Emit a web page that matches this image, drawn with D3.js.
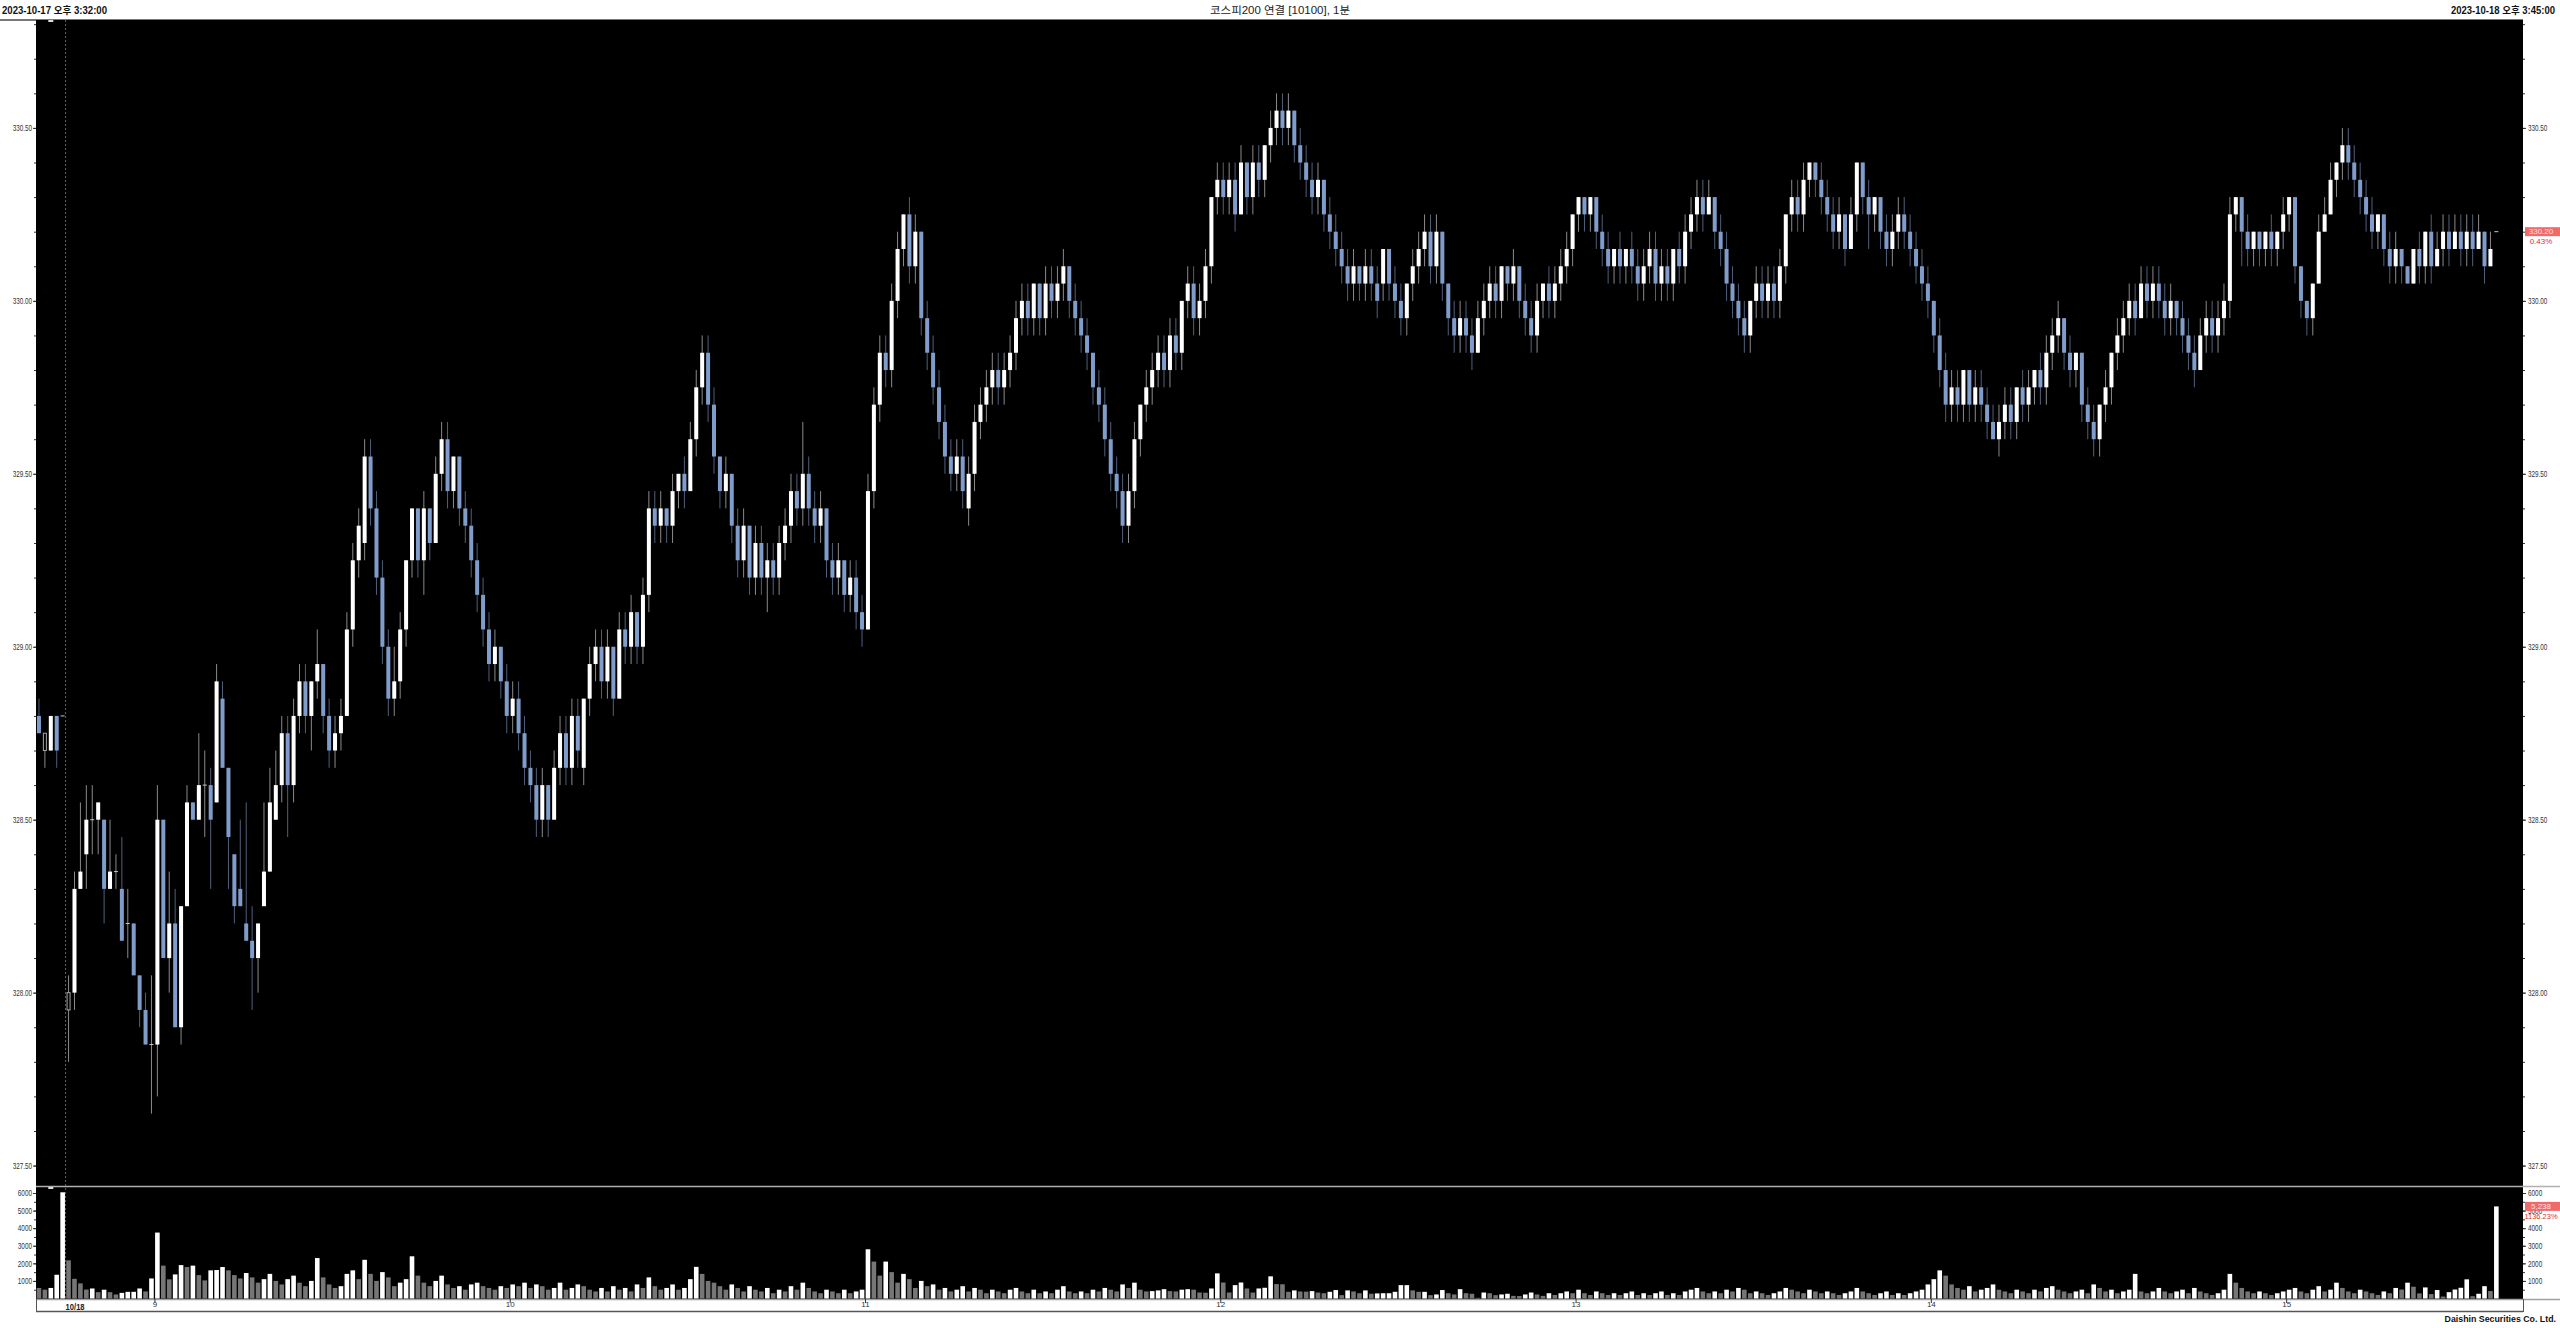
<!DOCTYPE html>
<html><head><meta charset="utf-8">
<script src="https://cdn.jsdelivr.net/npm/d3@7"></script>
<style>html,body{margin:0;padding:0;background:#fff;overflow:hidden}svg{display:block}</style>
</head><body>
<svg id="c" width="2560" height="1328"></svg>
<script>
// ---- data (5 candles of 10/17 then 10/18 session) ----
const opens = [
328.80,328.70,328.70,328.80,328.80,327.95,328.00,328.30,328.40,328.50,
328.50,328.50,328.30,328.35,328.30,328.20,328.20,328.05,327.95,327.85,
327.85,328.50,328.10,328.20,327.90,328.25,328.55,328.50,328.60,328.60,
328.55,328.85,328.65,328.40,328.30,328.20,328.15,328.10,328.25,328.35,
328.50,328.60,328.75,328.60,328.80,328.90,328.80,328.90,328.95,328.80,
328.70,328.75,328.80,329.05,329.25,329.30,329.55,329.40,329.20,329.00,
328.85,328.90,329.05,329.25,329.40,329.25,329.40,329.30,329.50,329.60,
329.45,329.55,329.40,329.35,329.25,329.15,329.05,328.95,329.00,328.90,
328.80,328.85,328.75,328.65,328.60,328.50,328.60,328.50,328.65,328.75,
328.65,328.80,328.65,328.85,328.95,329.00,328.90,329.00,328.85,329.05,
329.00,329.10,329.00,329.15,329.40,329.35,329.40,329.35,329.45,329.50,
329.45,329.60,329.75,329.85,329.70,329.55,329.45,329.50,329.35,329.25,
329.35,329.20,329.30,329.20,329.25,329.20,329.30,329.35,329.45,329.40,
329.50,329.40,329.35,329.40,329.25,329.20,329.25,329.15,329.20,329.10,
329.05,329.45,329.70,329.85,329.80,330.00,330.15,330.25,330.10,330.20,
329.95,329.85,329.75,329.65,329.55,329.50,329.55,329.40,329.50,329.65,
329.70,329.75,329.80,329.75,329.80,329.85,329.95,330.00,329.95,330.05,
329.95,330.05,330.00,330.05,330.10,330.00,329.95,329.90,329.85,329.75,
329.70,329.60,329.50,329.45,329.35,329.45,329.60,329.70,329.75,329.80,
329.85,329.80,329.90,329.85,330.00,330.05,329.95,330.00,330.10,330.30,
330.35,330.30,330.35,330.25,330.40,330.30,330.40,330.35,330.45,330.50,
330.55,330.50,330.55,330.45,330.40,330.35,330.30,330.35,330.25,330.20,
330.15,330.10,330.05,330.10,330.05,330.10,330.05,330.05,330.15,330.05,
330.00,329.95,330.05,330.10,330.15,330.20,330.10,330.20,330.05,329.95,
329.90,329.95,329.90,329.85,329.95,330.00,330.05,330.00,330.10,330.05,
330.10,330.00,329.95,329.90,330.00,330.05,330.00,330.05,330.10,330.15,
330.25,330.30,330.25,330.30,330.20,330.15,330.10,330.15,330.10,330.15,
330.10,330.05,330.10,330.15,330.05,330.10,330.05,330.15,330.10,330.20,
330.25,330.30,330.25,330.30,330.20,330.15,330.05,330.00,329.95,329.90,
330.00,330.05,330.00,330.05,330.00,330.10,330.25,330.30,330.25,330.35,
330.40,330.35,330.30,330.25,330.20,330.25,330.15,330.25,330.40,330.30,
330.25,330.30,330.20,330.15,330.20,330.25,330.20,330.15,330.10,330.05,
330.00,329.90,329.80,329.70,329.75,329.70,329.80,329.70,329.75,329.70,
329.65,329.60,329.65,329.70,329.65,329.75,329.70,329.75,329.80,329.75,
329.85,329.90,329.95,329.85,329.80,329.85,329.70,329.65,329.60,329.70,
329.75,329.85,329.90,329.95,330.00,329.95,330.05,330.00,330.05,330.00,
329.95,330.00,329.95,329.90,329.85,329.80,329.90,329.95,329.90,329.95,
330.00,330.25,330.30,330.20,330.15,330.20,330.15,330.20,330.15,330.20,
330.25,330.30,330.10,330.00,329.95,330.05,330.20,330.25,330.35,330.40,
330.45,330.40,330.35,330.30,330.25,330.20,330.25,330.15,330.10,330.15,
330.10,330.05,330.15,330.10,330.20,330.10,330.15,330.20,330.15,330.20,
330.15,330.20,330.15,330.20,330.10,330.20];
const highs = [
328.85,328.75,328.80,328.80,328.80,328.05,328.35,328.55,328.60,328.60,
328.55,328.50,328.50,328.40,328.45,328.30,328.20,328.05,328.00,328.05,
328.60,328.50,328.35,328.30,328.25,328.60,328.55,328.75,328.70,328.65,
328.95,328.90,328.65,328.40,328.50,328.55,328.25,328.20,328.55,328.65,
328.70,328.80,328.80,328.85,328.95,328.95,328.90,329.05,328.95,328.85,
328.80,328.85,329.10,329.30,329.40,329.60,329.60,329.45,329.25,329.05,
329.00,329.10,329.25,329.40,329.40,329.45,329.40,329.55,329.65,329.65,
329.55,329.55,329.45,329.40,329.30,329.20,329.10,329.05,329.00,328.95,
328.90,328.90,328.80,328.70,328.65,328.65,328.60,328.70,328.80,328.80,
328.85,328.85,328.85,329.00,329.05,329.05,329.05,329.00,329.10,329.10,
329.15,329.10,329.20,329.45,329.45,329.45,329.40,329.50,329.50,329.55,
329.65,329.80,329.90,329.90,329.75,329.55,329.55,329.50,329.40,329.40,
329.35,329.35,329.35,329.30,329.30,329.35,329.40,329.50,329.50,329.65,
329.55,329.45,329.45,329.40,329.30,329.30,329.25,329.25,329.25,329.15,
329.50,329.75,329.90,329.90,330.05,330.20,330.25,330.30,330.25,330.20,
330.00,329.90,329.80,329.70,329.60,329.60,329.60,329.55,329.70,329.75,
329.80,329.85,329.85,329.85,329.90,330.00,330.05,330.05,330.05,330.05,
330.10,330.10,330.10,330.15,330.10,330.05,330.00,329.95,329.85,329.80,
329.75,329.65,329.55,329.50,329.50,329.65,329.70,329.80,329.85,329.90,
329.90,329.95,329.95,330.00,330.10,330.10,330.05,330.15,330.30,330.40,
330.40,330.40,330.40,330.45,330.40,330.45,330.45,330.45,330.55,330.60,
330.60,330.60,330.55,330.50,330.45,330.40,330.40,330.35,330.30,330.25,
330.20,330.15,330.15,330.10,330.15,330.15,330.10,330.15,330.15,330.10,
330.05,330.05,330.15,330.20,330.25,330.25,330.25,330.20,330.05,330.00,
330.00,330.00,329.95,330.00,330.05,330.10,330.10,330.10,330.10,330.15,
330.10,330.05,330.00,330.05,330.05,330.10,330.10,330.15,330.20,330.25,
330.30,330.30,330.30,330.30,330.25,330.20,330.15,330.20,330.15,330.20,
330.15,330.15,330.20,330.20,330.15,330.15,330.15,330.20,330.25,330.30,
330.35,330.35,330.35,330.30,330.25,330.20,330.10,330.05,330.00,330.00,
330.10,330.10,330.10,330.10,330.15,330.25,330.35,330.35,330.40,330.40,
330.40,330.40,330.35,330.30,330.30,330.25,330.30,330.40,330.40,330.35,
330.30,330.30,330.25,330.25,330.30,330.30,330.25,330.20,330.15,330.10,
330.00,329.95,329.85,329.80,329.80,329.80,329.80,329.80,329.80,329.75,
329.70,329.70,329.75,329.75,329.75,329.80,329.80,329.80,329.85,329.90,
329.95,330.00,329.95,329.90,329.85,329.85,329.75,329.70,329.70,329.80,
329.85,329.95,330.00,330.05,330.05,330.10,330.10,330.10,330.10,330.05,
330.05,330.00,330.00,329.95,329.90,329.95,330.00,330.00,330.00,330.05,
330.30,330.30,330.30,330.25,330.20,330.20,330.20,330.25,330.20,330.30,
330.30,330.30,330.10,330.00,330.05,330.25,330.30,330.40,330.40,330.50,
330.50,330.45,330.40,330.35,330.30,330.25,330.25,330.20,330.20,330.15,
330.10,330.15,330.20,330.20,330.25,330.20,330.25,330.25,330.25,330.25,
330.25,330.25,330.25,330.20,330.20,330.20];
const lows = [
328.75,328.65,328.70,328.65,328.80,327.80,327.95,328.30,328.30,328.40,
328.40,328.20,328.30,328.30,328.15,328.10,328.05,327.90,327.85,327.65,
327.70,328.10,328.00,327.90,327.85,328.25,328.50,328.50,328.45,328.30,
328.55,328.65,328.30,328.20,328.25,328.15,327.95,328.00,328.25,328.35,
328.50,328.55,328.45,328.55,328.75,328.75,328.70,328.85,328.75,328.65,
328.65,328.70,328.80,329.00,329.20,329.25,329.35,329.15,328.95,328.80,
328.80,328.85,329.00,329.20,329.20,329.15,329.25,329.30,329.45,329.40,
329.40,329.35,329.30,329.20,329.10,329.00,328.90,328.90,328.85,328.75,
328.75,328.70,328.60,328.55,328.45,328.45,328.45,328.50,328.60,328.60,
328.60,328.65,328.60,328.80,328.90,328.85,328.85,328.80,328.85,328.95,
328.95,328.95,328.95,329.10,329.30,329.30,329.30,329.30,329.40,329.40,
329.45,329.55,329.70,329.65,329.50,329.40,329.40,329.30,329.20,329.20,
329.15,329.15,329.15,329.10,329.15,329.15,329.25,329.30,329.35,329.35,
329.35,329.30,329.30,329.20,329.15,329.15,329.10,329.10,329.05,329.00,
329.05,329.40,329.65,329.75,329.75,329.95,330.10,330.05,330.05,329.90,
329.80,329.70,329.60,329.50,329.45,329.45,329.40,329.35,329.45,329.60,
329.65,329.70,329.70,329.70,329.75,329.80,329.90,329.90,329.90,329.90,
329.90,329.95,329.95,330.00,329.95,329.90,329.85,329.80,329.70,329.65,
329.55,329.45,329.40,329.30,329.30,329.40,329.55,329.65,329.70,329.75,
329.75,329.75,329.80,329.80,329.95,329.90,329.90,329.95,330.05,330.25,
330.25,330.25,330.20,330.25,330.25,330.25,330.30,330.30,330.40,330.45,
330.45,330.45,330.40,330.35,330.30,330.25,330.25,330.20,330.15,330.10,
330.05,330.00,330.00,330.00,330.00,330.00,329.95,330.00,330.00,329.95,
329.90,329.90,330.00,330.05,330.10,330.05,330.05,330.00,329.90,329.85,
329.85,329.85,329.80,329.85,329.90,329.95,329.95,329.95,330.00,330.00,
329.95,329.90,329.85,329.85,329.95,329.95,329.95,330.00,330.05,330.10,
330.20,330.20,330.20,330.15,330.10,330.05,330.05,330.05,330.05,330.05,
330.00,330.00,330.05,330.00,330.00,330.00,330.00,330.05,330.05,330.15,
330.20,330.20,330.25,330.15,330.10,330.00,329.95,329.90,329.85,329.85,
329.95,329.95,329.95,329.95,329.95,330.05,330.20,330.20,330.20,330.30,
330.30,330.25,330.20,330.15,330.15,330.10,330.15,330.20,330.25,330.15,
330.20,330.15,330.10,330.10,330.15,330.15,330.10,330.05,330.00,329.95,
329.85,329.75,329.65,329.65,329.65,329.65,329.65,329.65,329.65,329.60,
329.60,329.55,329.60,329.60,329.60,329.65,329.65,329.70,329.70,329.70,
329.80,329.85,329.80,329.75,329.75,329.65,329.60,329.55,329.55,329.65,
329.70,329.80,329.85,329.90,329.90,329.95,329.95,329.95,329.95,329.90,
329.90,329.90,329.85,329.80,329.75,329.80,329.85,329.85,329.85,329.90,
329.95,330.20,330.10,330.10,330.10,330.10,330.10,330.10,330.10,330.15,
330.20,330.05,329.95,329.90,329.90,330.05,330.20,330.25,330.30,330.35,
330.35,330.30,330.25,330.20,330.15,330.15,330.10,330.05,330.05,330.05,
330.05,330.05,330.05,330.05,330.05,330.10,330.10,330.10,330.15,330.10,
330.10,330.10,330.15,330.05,330.10,330.20];
const closes = [
328.75,328.75,328.80,328.70,328.80,328.00,328.30,328.35,328.50,328.50,
328.55,328.30,328.35,328.35,328.15,328.20,328.05,327.95,327.85,327.85,
328.50,328.10,328.20,327.90,328.25,328.55,328.50,328.60,328.60,328.50,
328.90,328.65,328.45,328.25,328.25,328.15,328.10,328.20,328.35,328.55,
328.60,328.75,328.60,328.80,328.90,328.80,328.90,328.95,328.80,328.70,
328.75,328.80,329.05,329.25,329.35,329.55,329.40,329.20,329.00,328.85,
328.90,329.05,329.25,329.40,329.25,329.40,329.30,329.50,329.60,329.45,
329.55,329.40,329.35,329.25,329.15,329.05,328.95,329.00,328.90,328.80,
328.85,328.75,328.65,328.60,328.50,328.60,328.50,328.65,328.75,328.65,
328.80,328.70,328.85,328.95,329.00,328.90,329.00,328.85,329.05,329.00,
329.10,329.00,329.15,329.40,329.35,329.40,329.35,329.45,329.50,329.45,
329.60,329.75,329.85,329.70,329.55,329.45,329.50,329.35,329.25,329.35,
329.20,329.30,329.20,329.25,329.20,329.30,329.35,329.45,329.40,329.50,
329.40,329.35,329.40,329.25,329.20,329.25,329.15,329.20,329.10,329.05,
329.45,329.70,329.85,329.80,330.00,330.15,330.25,330.10,330.20,329.95,
329.85,329.75,329.65,329.55,329.50,329.55,329.45,329.50,329.65,329.70,
329.75,329.80,329.75,329.80,329.85,329.95,330.00,329.95,330.05,329.95,
330.05,330.00,330.05,330.10,330.00,329.95,329.90,329.85,329.75,329.70,
329.60,329.50,329.45,329.35,329.45,329.60,329.70,329.75,329.80,329.85,
329.80,329.90,329.85,330.00,330.05,329.95,330.00,330.10,330.30,330.35,
330.30,330.35,330.25,330.40,330.30,330.40,330.35,330.45,330.50,330.55,
330.50,330.55,330.45,330.40,330.35,330.30,330.35,330.25,330.20,330.15,
330.10,330.05,330.10,330.05,330.10,330.05,330.00,330.15,330.05,330.00,
329.95,330.05,330.10,330.15,330.20,330.10,330.20,330.05,329.95,329.90,
329.95,329.90,329.85,329.95,330.00,330.05,330.00,330.10,330.05,330.10,
330.00,329.95,329.90,330.00,330.05,330.00,330.05,330.10,330.15,330.25,
330.30,330.25,330.30,330.20,330.15,330.10,330.15,330.10,330.15,330.10,
330.05,330.10,330.15,330.05,330.10,330.05,330.15,330.10,330.20,330.25,
330.30,330.25,330.30,330.20,330.15,330.05,330.00,329.95,329.90,330.00,
330.05,330.00,330.05,330.00,330.10,330.25,330.30,330.25,330.35,330.40,
330.35,330.30,330.25,330.20,330.25,330.15,330.25,330.40,330.30,330.25,
330.30,330.20,330.15,330.20,330.25,330.20,330.15,330.10,330.05,330.00,
329.90,329.80,329.70,329.75,329.70,329.80,329.70,329.75,329.70,329.65,
329.60,329.65,329.70,329.65,329.75,329.70,329.75,329.80,329.75,329.85,
329.90,329.95,329.85,329.80,329.85,329.70,329.65,329.60,329.70,329.75,
329.85,329.90,329.95,330.00,329.95,330.05,330.00,330.05,330.00,329.95,
330.00,329.95,329.90,329.85,329.80,329.90,329.95,329.90,329.95,330.00,
330.25,330.30,330.20,330.15,330.20,330.15,330.20,330.15,330.20,330.25,
330.30,330.10,330.00,329.95,330.05,330.20,330.25,330.35,330.40,330.45,
330.40,330.35,330.30,330.25,330.20,330.25,330.15,330.10,330.15,330.10,
330.05,330.15,330.10,330.20,330.10,330.15,330.20,330.15,330.20,330.15,
330.20,330.15,330.20,330.10,330.15,330.20];
const volumes = [
600,500,600,1350,6040,2170,1120,860,510,570,
360,500,360,230,320,380,380,570,400,1140,
3750,1870,1090,1370,1900,1790,1870,1330,1030,1600,
1620,1790,1600,1330,1140,1450,1200,900,1100,1400,
1000,800,1100,1300,900,700,1000,2300,1200,800,
600,700,1400,1600,1100,2200,1400,1000,1500,1200,
700,900,1100,2400,1300,900,700,1000,1300,800,
600,700,500,800,900,700,600,500,700,600,
800,700,900,600,800,700,500,600,900,500,
600,800,700,500,400,600,400,700,500,600,
400,800,600,1200,700,500,600,800,500,600,
1100,1800,1400,1000,900,700,500,800,600,400,
700,500,400,600,300,500,400,700,500,900,
600,400,300,500,400,300,500,300,400,500,
2800,2100,1300,2100,1500,900,1400,1100,600,1000,
700,800,500,600,400,500,700,400,600,500,
300,500,400,300,500,600,400,300,500,300,
400,300,500,700,400,300,400,300,500,400,
600,500,400,800,600,900,500,400,420,460,
530,420,400,500,530,500,340,330,570,1430,
910,340,760,910,570,340,570,610,1260,820,
810,380,460,400,390,420,340,300,380,480,
190,460,400,300,460,270,290,300,300,380,
760,760,460,380,380,190,230,480,300,230,
530,300,270,40,340,300,190,230,270,150,
140,230,340,230,150,300,200,300,400,300,
500,300,200,400,300,200,300,200,300,400,
200,300,200,300,400,200,300,200,400,500,
600,400,300,400,300,500,400,600,500,300,
400,300,200,300,400,600,500,400,300,500,
400,300,400,300,200,300,400,600,400,300,
200,300,400,200,300,200,300,400,500,800,
1100,1600,1300,800,600,500,700,400,500,600,
800,500,400,300,500,400,300,500,400,600,
700,500,400,300,400,500,300,800,600,400,
500,300,400,500,1400,400,300,400,600,400,
300,400,500,300,600,400,300,200,300,500,
1400,900,600,400,300,400,300,200,300,400,
500,600,400,300,500,700,400,500,900,600,
400,300,500,400,300,200,400,300,600,510,
900,670,290,630,250,480,110,360,510,610,
1090,130,270,700,424,5238];
const priceTicks = [327.50,328.00,328.50,329.00,329.50,330.00,330.50];
const volumeTicks = [1000,2000,3000,4000,5000,6000];
const hourLabels = ["9","10","11","12","13","14","15"];
const dayLabel = "10/18";
const titleLeft = "2023-10-17 오후 3:32:00";
const titleCenter = "코스피200 연결 [10100], 1분";
const titleRight = "2023-10-18 오후 3:45:00";
const footer = "Daishin Securities Co. Ltd.";
const prevDayCount = 5;      // candles belonging to 10/17
const volumePctText = "1136.23%";

// ---- layout ----
const L=36, R=2523, T=20, PB=1186, VT=1187, VB=1299, XB=1311;
const svg = d3.select("#c");
const N = Math.min(opens.length, highs.length, lows.length, closes.length, volumes.length);
const slots = 420;
const x = d3.scaleBand().domain(d3.range(slots)).range([L,R]).padding(0);
const cx = k => x(k) + x.step()/2;
const bw = 4;
const y = d3.scaleLinear().domain([327.441, 330.812]).range([PB, T]);
const yv = d3.scaleLinear().domain([0,6000]).range([1298.5, 1193]);

const AX = "#333";
const fontNum = "'Liberation Sans', Arial, sans-serif";
const fontKr = "'Liberation Sans','Noto Sans CJK KR', sans-serif";

// title
svg.append("text").attr("x",2).attr("y",13.5).attr("font-family",fontKr).attr("font-weight","bold")
  .attr("font-size",10).attr("fill","#111").attr("textLength",105).attr("lengthAdjust","spacingAndGlyphs").text(titleLeft);
svg.append("text").attr("x",1210).attr("y",13.5).attr("font-family",fontKr)
  .attr("font-size",10.5).attr("fill","#222").attr("textLength",140).attr("lengthAdjust","spacingAndGlyphs").text(titleCenter);
svg.append("text").attr("x",2555).attr("y",13.5).attr("text-anchor","end").attr("font-family",fontKr).attr("font-weight","bold")
  .attr("font-size",10).attr("fill","#111").attr("textLength",104).attr("lengthAdjust","spacingAndGlyphs").text(titleRight);
svg.append("line").attr("x1",0).attr("x2",R).attr("y1",20).attr("y2",20).attr("stroke","#777").attr("stroke-width",2);

// panes
svg.append("rect").attr("x",L).attr("y",T).attr("width",R-L).attr("height",PB-T).attr("fill","#000");
svg.append("rect").attr("x",L).attr("y",VT).attr("width",R-L).attr("height",VB-VT).attr("fill","#000");
svg.append("line").attr("x1",L).attr("x2",2560).attr("y1",PB+0.5).attr("y2",PB+0.5).attr("stroke","#b0b0b0").attr("stroke-width",1.5);
svg.append("line").attr("x1",L).attr("x2",2560).attr("y1",VB+0.5).attr("y2",VB+0.5).attr("stroke","#a0a0a0").attr("stroke-width",1.5);
svg.append("line").attr("x1",L).attr("x2",R).attr("y1",XB+0.5).attr("y2",XB+0.5).attr("stroke","#555").attr("stroke-width",1.5);
svg.append("line").attr("x1",L+0.5).attr("x2",L+0.5).attr("y1",VB).attr("y2",XB+1).attr("stroke","#555");
svg.append("line").attr("x1",R+0.5).attr("x2",R+0.5).attr("y1",VB).attr("y2",XB+1).attr("stroke","#555");

// day separator
svg.append("line").attr("x1",x(prevDayCount)).attr("x2",x(prevDayCount)).attr("y1",T).attr("y2",VB)
  .attr("stroke","#666").attr("stroke-dasharray","2,2");

function numText(sel){
  sel.attr("font-family",fontNum).attr("font-size",8.5).attr("fill",AX)
     .attr("lengthAdjust","spacingAndGlyphs")
     .attr("textLength",function(){const t=this.textContent;return t.replace(/[^0-9]/g,"").length*3.55+(t.match(/[.,%]/g)||[]).length*1.6;});
}
function styleAxis(g){ g.select(".domain").remove(); g.selectAll("line").attr("stroke",AX); g.selectAll("text").call(numText); }
const minorP = d3.range(327.5, 330.81, 0.1);
svg.append("g").attr("transform",`translate(${L},0)`).call(d3.axisLeft(y).tickValues(minorP).tickSize(2).tickFormat("")).call(styleAxis);
svg.append("g").attr("transform",`translate(${R},0)`).call(d3.axisRight(y).tickValues(minorP).tickSize(2).tickFormat("")).call(styleAxis);
svg.append("g").attr("transform",`translate(${L},0)`).call(d3.axisLeft(y).tickValues(priceTicks).tickSize(3).tickPadding(1).tickFormat(d3.format(".2f"))).call(styleAxis);
svg.append("g").attr("transform",`translate(${R},0)`).call(d3.axisRight(y).tickValues(priceTicks).tickSize(3).tickPadding(2).tickFormat(d3.format(".2f"))).call(styleAxis);
const minorV = d3.range(500, 6001, 500);
svg.append("g").attr("transform",`translate(${L},0)`).call(d3.axisLeft(yv).tickValues(minorV).tickSize(2).tickFormat("")).call(styleAxis);
svg.append("g").attr("transform",`translate(${R},0)`).call(d3.axisRight(yv).tickValues(minorV).tickSize(2).tickFormat("")).call(styleAxis);
svg.append("g").attr("transform",`translate(${L},0)`).call(d3.axisLeft(yv).tickValues(volumeTicks).tickSize(3).tickPadding(1).tickFormat(d3.format("d"))).call(styleAxis);
svg.append("g").attr("transform",`translate(${R},0)`).call(d3.axisRight(yv).tickValues(volumeTicks).tickSize(3).tickPadding(2).tickFormat(d3.format("d"))).call(styleAxis);

// x axis (hour boundaries)
const hourIdx = hourLabels.map((h,i)=>prevDayCount+15+60*i);
const gx = svg.append("g").attr("transform",`translate(0,${VB})`);
gx.call(d3.axisBottom(d3.scaleLinear().domain([0,slots]).range([L,R])).tickValues(hourIdx).tickSize(4).tickPadding(0).tickFormat((d,i)=>hourLabels[i]));
gx.select(".domain").remove();
gx.selectAll("line").attr("stroke","#333");
gx.selectAll("text").attr("font-family",fontNum).attr("font-size",8).attr("fill","#333").attr("dy","0.45em");
svg.append("text").attr("x",x(prevDayCount)).attr("y",1310).attr("font-family",fontNum).attr("font-weight","bold")
  .attr("font-size",8.5).attr("fill","#222").attr("textLength",19).attr("lengthAdjust","spacingAndGlyphs").text(dayLabel);

// footer
svg.append("text").attr("x",2556).attr("y",1322).attr("text-anchor","end").attr("font-family",fontNum).attr("font-weight","bold")
  .attr("font-size",8.8).attr("fill","#111").text(footer);

// candles
const data = d3.range(N).map(i=>({i,o:opens[i],h:highs[i],l:lows[i],c:closes[i],v:volumes[i],
  pc: i>0?closes[i-1]:Infinity, pv: i>0?volumes[i-1]:Infinity}));
const UP="#ffffff", DN="#7f9ccb";
const cg = svg.append("g");
data.forEach(d=>{
  const X = cx(d.i);
  const type = d.c>d.o ? (d.c<=d.pc+1e-9 ? "hollow" : "up") : d.c<d.o ? "down" : "doji";
  const wickCol = type==="down" ? "#50607a" : "#8a8a8a";
  cg.append("line").attr("x1",X).attr("x2",X).attr("y1",y(d.h)).attr("y2",y(d.l)).attr("stroke",wickCol).attr("stroke-width",1);
  if(type==="doji"){
    cg.append("line").attr("x1",X-bw/2).attr("x2",X+bw/2).attr("y1",y(d.c)).attr("y2",y(d.c)).attr("stroke","#c8c8c8").attr("stroke-width",1);
  } else {
    const top=y(Math.max(d.o,d.c)), bot=y(Math.min(d.o,d.c));
    const r = cg.append("rect").attr("x",X-bw/2).attr("y",top).attr("width",bw).attr("height",Math.max(1,bot-top));
    if(type==="up") r.attr("fill",UP);
    else if(type==="down") r.attr("fill",DN);
    else r.attr("fill","#000").attr("stroke","#a8a8a8").attr("stroke-width",1).attr("x",X-bw/2+0.5).attr("width",bw-1);
  }
});
// volume bars: white when volume >= previous volume
svg.append("g").selectAll("rect").data(data).join("rect")
  .attr("x",d=>cx(d.i)-2.3).attr("width",4.6)
  .attr("y",d=>yv(d.v)).attr("height",d=>yv(0)-yv(d.v))
  .attr("fill",d=>d.v>=d.pv?"#ffffff":"#767676");

// cursor marks
svg.append("rect").attr("x",cx(2)-2.5).attr("y",T).attr("width",5).attr("height",2).attr("fill","#ddd");
svg.append("rect").attr("x",cx(2)-2.5).attr("y",VT).attr("width",5).attr("height",2).attr("fill","#ddd");

// last price / volume tags
const last = data[N-1], prevClose = closes[prevDayCount-1];
svg.append("rect").attr("x",R+2).attr("y",y(last.c)-4.5).attr("width",2560-R-2).attr("height",9).attr("fill","#f06a6a");
svg.append("text").attr("x",2541).attr("y",y(last.c)).attr("dy","0.35em").attr("text-anchor","middle").attr("font-family",fontNum)
  .attr("font-size",8).attr("fill","#ffe0e0").text(d3.format(".2f")(last.c));
svg.append("text").attr("x",2541).attr("y",y(last.c)+10).attr("dy","0.35em").attr("text-anchor","middle").attr("font-family",fontNum)
  .attr("font-size",8).attr("fill","#e23030").text(d3.format(".2f")((last.c/prevClose-1)*100)+"%");
svg.append("rect").attr("x",R+2).attr("y",yv(last.v)-4.5).attr("width",2560-R-2).attr("height",9).attr("fill","#f06a6a");
svg.append("text").attr("x",2541).attr("y",yv(last.v)).attr("dy","0.35em").attr("text-anchor","middle").attr("font-family",fontNum)
  .attr("font-size",8).attr("fill","#ffe0e0").text(d3.format(",")(last.v));
svg.append("text").attr("x",2541).attr("y",yv(last.v)+10).attr("dy","0.35em").attr("text-anchor","middle").attr("font-family",fontNum)
  .attr("font-size",7.5).attr("fill","#e23030").text(volumePctText);
</script>
</body></html>
